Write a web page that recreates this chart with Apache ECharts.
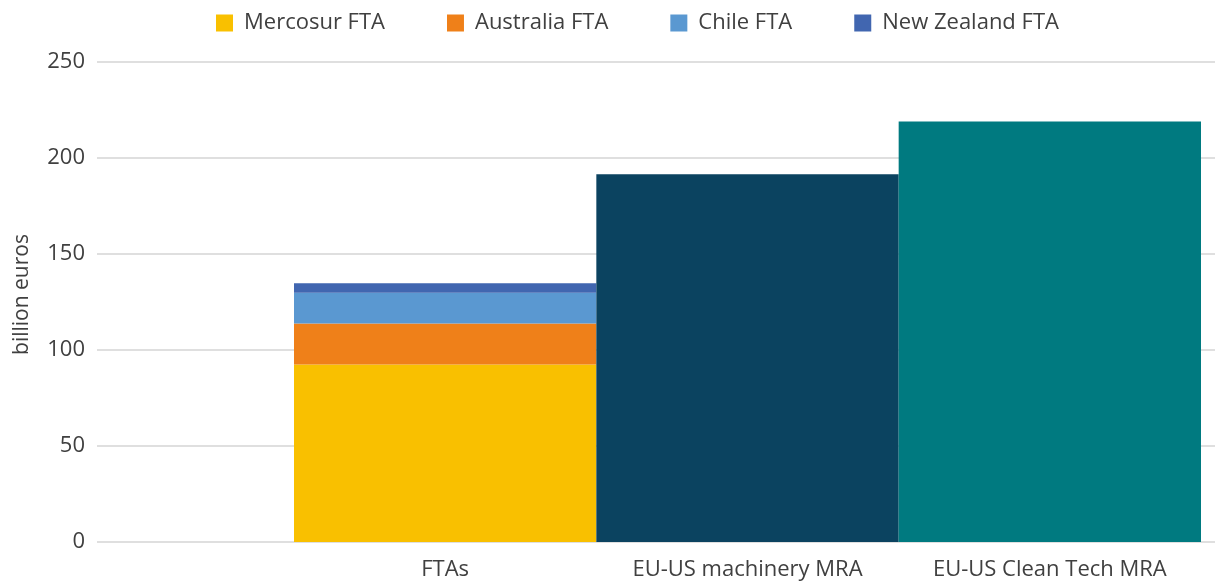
<!DOCTYPE html>
<html>
<head>
<meta charset="utf-8">
<script src="https://cdn.jsdelivr.net/npm/echarts@6/dist/echarts.min.js"></script>
<style>
html,body{margin:0;padding:0;background:#fff;}
#chart{width:1215px;height:582px;}
</style>
</head>
<body>
<div id="chart"></div>
<script>
const categories = ['FTAs', 'EU-US machinery MRA', 'EU-US Clean Tech MRA'];
const mercosur = [92.5, null, null];
const australia = [21.3, null, null];
const chile = [16, null, null];
const newZealand = [5, null, null];
const machinery = [null, 191.5, null];
const cleanTech = [null, null, 219];
const yTicks = { min: 0, max: 250, interval: 50 };
const yName = 'billion euros';

const FONT = 'Open Sans';
const TXT = '#404040';

const chart = echarts.init(document.getElementById('chart'));
const barBase = { type: 'bar', stack: 'total', barWidth: '100%', xAxisIndex: 1, yAxisIndex: 1 };
chart.setOption({
  animation: false,
  textStyle: { fontFamily: FONT },
  legend: {
    left: 216, top: 12, padding: 0,
    itemWidth: 17, itemHeight: 17, itemGap: 62,
    icon: 'rect',
    data: ['Mercosur FTA', 'Australia FTA', 'Chile FTA', 'New Zealand FTA'],
    textStyle: { fontFamily: FONT, fontSize: 22, color: TXT, padding: [0, 0, 0, 6] }
  },
  grid: [
    { left: 97, right: 0, top: 62, bottom: 40, outerBoundsMode: 'none', containLabel: false },
    { left: 294, right: 14, top: 62, bottom: 40, outerBoundsMode: 'none', containLabel: false }
  ],
  xAxis: [
    { type: 'value', gridIndex: 0, show: false, min: 0, max: 1 },
    {
      type: 'category', gridIndex: 1, data: categories, boundaryGap: true,
      axisLine: { show: false }, axisTick: { show: false },
      axisLabel: { fontFamily: FONT, fontSize: 22, color: TXT, margin: 17, interval: 0 }
    }
  ],
  yAxis: [
    {
      type: 'value', gridIndex: 0, min: yTicks.min, max: yTicks.max, interval: yTicks.interval,
      name: yName, nameLocation: 'middle', nameGap: 64,
      nameTextStyle: { fontFamily: FONT, fontSize: 21, color: TXT, padding: [0, 0, 0, 15] },
      axisLine: { show: false }, axisTick: { show: false },
      axisLabel: { fontFamily: FONT, fontSize: 22, color: TXT, margin: 12 },
      splitLine: { lineStyle: { color: '#d4d4d4', width: 1.5 } }
    },
    {
      type: 'value', gridIndex: 1, min: yTicks.min, max: yTicks.max, interval: yTicks.interval,
      show: false, splitLine: { show: false }
    }
  ],
  series: [
    Object.assign({ name: 'Mercosur FTA', data: mercosur, itemStyle: { color: '#F9C000' } }, barBase),
    Object.assign({ name: 'Australia FTA', data: australia, itemStyle: { color: '#EF8019' } }, barBase),
    Object.assign({ name: 'Chile FTA', data: chile, itemStyle: { color: '#5A98D1' } }, barBase),
    Object.assign({ name: 'New Zealand FTA', data: newZealand, itemStyle: { color: '#4166B0' } }, barBase),
    Object.assign({ name: 'EU-US machinery MRA', data: machinery, itemStyle: { color: '#0B4360' } }, barBase),
    Object.assign({ name: 'EU-US Clean Tech MRA', data: cleanTech, itemStyle: { color: '#007A80' } }, barBase)
  ]
});
</script>
</body>
</html>
